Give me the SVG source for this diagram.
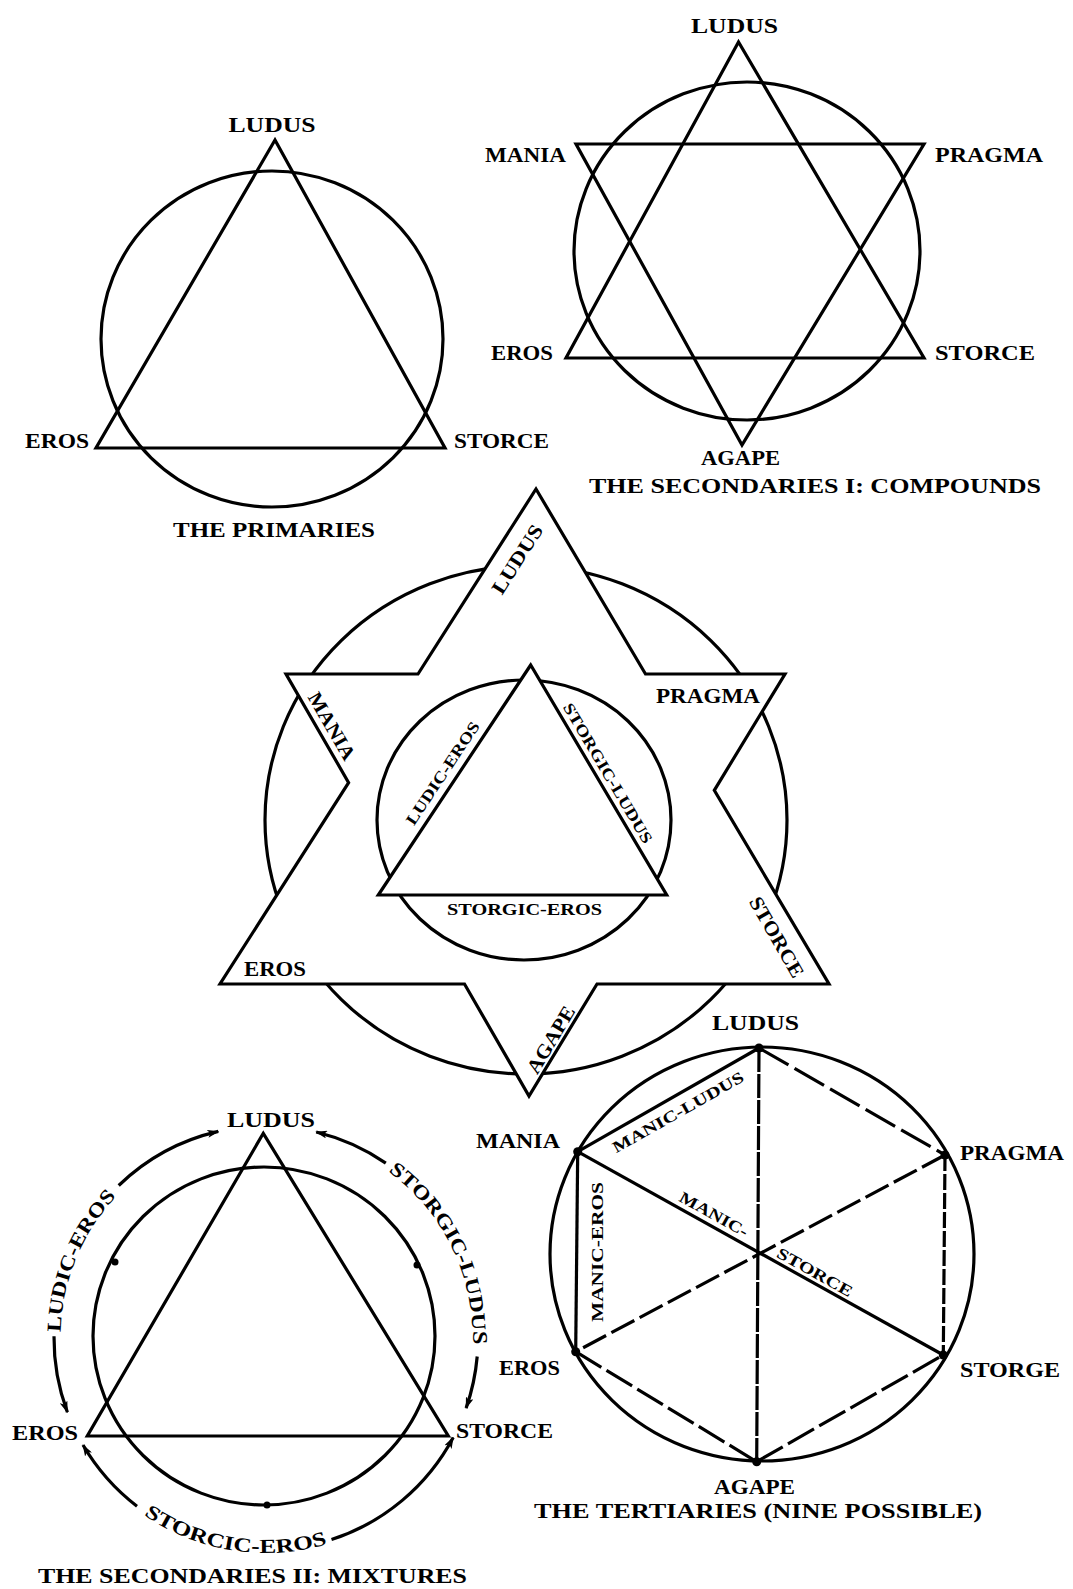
<svg xmlns="http://www.w3.org/2000/svg" width="1073" height="1589" viewBox="0 0 1073 1589">
<style>
.bg{fill:#fff}
.ln{fill:none;stroke:#000;stroke-width:3.2;stroke-linejoin:miter}
.wf{fill:#fff;stroke:#000;stroke-width:3.2;stroke-linejoin:miter}
.t{font-family:"Liberation Serif","Times New Roman",serif;font-weight:bold;font-size:20px;fill:#000}
.s{font-size:16px}
.ttl{font-size:21px}
.c{text-anchor:middle}
.dot{fill:#000}
</style>
<defs>
<marker id="arr" viewBox="0 0 12 8" refX="11" refY="4" markerWidth="12" markerHeight="8" markerUnits="userSpaceOnUse" orient="auto">
<path d="M0,0 L12,4 L0,8 L3,4 z" fill="#000"/>
</marker>
</defs>
<rect class="bg" x="0" y="0" width="1073" height="1589"/>

<!-- THE PRIMARIES -->
<g id="primaries">
<ellipse class="ln" cx="272" cy="339" rx="171" ry="168"/>
<polygon class="ln" points="275,140 96,448 445,448"/>
<text class="t c" x="272" y="132" textLength="87" lengthAdjust="spacingAndGlyphs">LUDUS</text>
<text class="t" x="25" y="448" textLength="64" lengthAdjust="spacingAndGlyphs">EROS</text>
<text class="t" x="454" y="448" textLength="95" lengthAdjust="spacingAndGlyphs">STORCE</text>
<text class="t ttl" x="173" y="537" textLength="202" lengthAdjust="spacingAndGlyphs">THE PRIMARIES</text>
</g>

<!-- THE SECONDARIES I: COMPOUNDS -->
<g id="secondaries-compounds">
<ellipse class="ln" cx="747" cy="251" rx="173" ry="169"/>
<polygon class="ln" points="738.5,42 566,358 924,358"/>
<polygon class="ln" points="576,144 924,144 742,445"/>
<text class="t c" x="734.5" y="33" textLength="87" lengthAdjust="spacingAndGlyphs">LUDUS</text>
<text class="t" x="485" y="162" textLength="81" lengthAdjust="spacingAndGlyphs">MANIA</text>
<text class="t" x="935" y="162" textLength="108" lengthAdjust="spacingAndGlyphs">PRAGMA</text>
<text class="t" x="491" y="360" textLength="62" lengthAdjust="spacingAndGlyphs">EROS</text>
<text class="t" x="935" y="360" textLength="100" lengthAdjust="spacingAndGlyphs">STORCE</text>
<text class="t" x="701" y="465" textLength="79" lengthAdjust="spacingAndGlyphs">AGAPE</text>
<text class="t ttl" x="589" y="493" textLength="452" lengthAdjust="spacingAndGlyphs">THE SECONDARIES I: COMPOUNDS</text>
</g>

<!-- CENTRAL STAR -->
<g id="central-star">
<ellipse class="ln" cx="526" cy="820" rx="261" ry="254"/>
<polygon class="wf" points="536,489 645.5,674 785,674 714.3,790.3 829,984 597,984 529,1096 464.5,984 220,984 348.6,782.6 286,674 418,674"/>
<ellipse class="ln" cx="524" cy="820" rx="147" ry="140"/>
<polygon class="wf" points="530.7,665 378.3,895 666.7,895"/>
<text class="t c" transform="translate(517,559) rotate(-57.5)" dy="0.35em" textLength="78" lengthAdjust="spacingAndGlyphs">LUDUS</text>
<text class="t c" transform="translate(332,726) rotate(60)" dy="0.35em" textLength="75" lengthAdjust="spacingAndGlyphs">MANIA</text>
<text class="t" x="656" y="703" textLength="104" lengthAdjust="spacingAndGlyphs">PRAGMA</text>
<text class="t" x="244" y="976" textLength="62" lengthAdjust="spacingAndGlyphs">EROS</text>
<text class="t c" transform="translate(777,937) rotate(60)" dy="0.35em" textLength="90" lengthAdjust="spacingAndGlyphs">STORCE</text>
<text class="t c" transform="translate(550.5,1039.5) rotate(-59)" dy="0.35em" textLength="75" lengthAdjust="spacingAndGlyphs">AGAPE</text>
<text class="t s c" transform="translate(442.5,773) rotate(-56.5)" dy="0.35em" textLength="120" lengthAdjust="spacingAndGlyphs">LUDIC-EROS</text>
<text class="t s c" transform="translate(608,773) rotate(59.4)" dy="0.35em" textLength="160" lengthAdjust="spacingAndGlyphs">STORGIC-LUDUS</text>
<text class="t s" x="447" y="915" textLength="155" lengthAdjust="spacingAndGlyphs">STORGIC-EROS</text>
</g>

<!-- THE SECONDARIES II: MIXTURES -->
<g id="secondaries-mixtures">
<ellipse class="ln" cx="264" cy="1336" rx="171" ry="169"/>
<polygon class="ln" points="263.3,1133.3 87.3,1436 448.3,1436"/>
<circle class="dot" cx="115" cy="1262" r="3.5"/>
<circle class="dot" cx="417" cy="1265" r="3.5"/>
<circle class="dot" cx="267" cy="1505" r="3.5"/>
<g id="mix-arcs">
<path class="ln" d="M54,1336.2 A212,212 0 0 0 67.4,1412.2" marker-end="url(#arr)"/>
<path class="ln" d="M118.7,1185.5 A212,212 0 0 1 218.3,1131.4" marker-end="url(#arr)"/>
<path class="ln" d="M385.8,1163.1 A212,212 0 0 0 316.2,1132" marker-end="url(#arr)"/>
<path class="ln" d="M477.2,1356.5 A212,212 0 0 1 466.1,1408.1" marker-end="url(#arr)"/>
<path class="ln" d="M137,1506.2 A212,212 0 0 1 83,1445" marker-end="url(#arr)"/>
<path class="ln" d="M331.5,1539.6 A212,212 0 0 0 453.2,1437.5" marker-end="url(#arr)"/>
</g>
<path id="pLE" d="M60.5,1338 A206,206 0 0 1 120.3,1192.3" fill="none"/>
<path id="pSL" d="M387.4,1170.9 A206,206 0 0 1 472.4,1345.2" fill="none"/>
<path id="pSE" d="M139.6,1511.9 A215,215 0 0 0 332.4,1542.5" fill="none"/>
<text class="t"><textPath href="#pLE" startOffset="50%" text-anchor="middle" textLength="150" lengthAdjust="spacingAndGlyphs">LUDIC-EROS</textPath></text>
<text class="t"><textPath href="#pSL" startOffset="50%" text-anchor="middle" textLength="200" lengthAdjust="spacingAndGlyphs">STORGIC-LUDUS</textPath></text>
<text class="t"><textPath href="#pSE" startOffset="50%" text-anchor="middle" textLength="192" lengthAdjust="spacingAndGlyphs">STORCIC-EROS</textPath></text>
<text class="t c" x="271" y="1127" textLength="88" lengthAdjust="spacingAndGlyphs">LUDUS</text>
<text class="t" x="12" y="1440" textLength="66" lengthAdjust="spacingAndGlyphs">EROS</text>
<text class="t" x="456" y="1438" textLength="97" lengthAdjust="spacingAndGlyphs">STORCE</text>
<text class="t ttl" x="38" y="1583" textLength="429" lengthAdjust="spacingAndGlyphs">THE SECONDARIES II: MIXTURES</text>
</g>

<!-- THE TERTIARIES -->
<g id="tertiaries">
<ellipse class="ln" cx="762" cy="1254" rx="212" ry="207"/>
<g id="tert-lines">
<line class="ln" x1="759" y1="1048" x2="756.7" y2="1461.7" stroke-width="2" stroke-dasharray="24 2"/>
<line class="ln" x1="577.7" y1="1151.7" x2="759" y2="1048"/>
<line class="ln" x1="577.7" y1="1151.7" x2="575.7" y2="1351.7" stroke-width="3.6"/>
<line class="ln" x1="577.7" y1="1151.7" x2="943.3" y2="1355" stroke-width="2.6"/>
<line class="ln" x1="759" y1="1048" x2="945" y2="1155" stroke-dasharray="34 7"/>
<line class="ln" x1="945" y1="1155" x2="575.7" y2="1351.7" stroke-width="2.6" stroke-dasharray="26 6"/>
<line class="ln" x1="945" y1="1155" x2="943.3" y2="1355" stroke-width="2.4" stroke-dasharray="16 3"/>
<line class="ln" x1="575.7" y1="1351.7" x2="756.7" y2="1461.7" stroke-dasharray="30 6"/>
<line class="ln" x1="756.7" y1="1461.7" x2="943.3" y2="1355" stroke-dasharray="30 6"/>
</g>
<circle class="dot" cx="759" cy="1048" r="4.5"/>
<circle class="dot" cx="577.7" cy="1151.7" r="4.5"/>
<circle class="dot" cx="945" cy="1155" r="4.5"/>
<circle class="dot" cx="575.7" cy="1351.7" r="4.5"/>
<circle class="dot" cx="943.3" cy="1355" r="4.5"/>
<circle class="dot" cx="756.7" cy="1461.7" r="4.5"/>
<text class="t c" x="755.5" y="1030" textLength="87" lengthAdjust="spacingAndGlyphs">LUDUS</text>
<text class="t" x="476" y="1148" textLength="84" lengthAdjust="spacingAndGlyphs">MANIA</text>
<text class="t" x="960" y="1160" textLength="104" lengthAdjust="spacingAndGlyphs">PRAGMA</text>
<text class="t" x="499" y="1375" textLength="61" lengthAdjust="spacingAndGlyphs">EROS</text>
<text class="t" x="960" y="1377" textLength="100" lengthAdjust="spacingAndGlyphs">STORGE</text>
<text class="t" x="714" y="1494" textLength="81" lengthAdjust="spacingAndGlyphs">AGAPE</text>
<text class="t s c" transform="translate(678,1112) rotate(-29.5)" dy="0.35em" textLength="148" lengthAdjust="spacingAndGlyphs">MANIC-LUDUS</text>
<text class="t s c" transform="translate(597.5,1252) rotate(-90)" dy="0.35em" textLength="140" lengthAdjust="spacingAndGlyphs">MANIC-EROS</text>
<text class="t s c" transform="translate(714,1214) rotate(29.1)" dy="0.35em" textLength="76" lengthAdjust="spacingAndGlyphs">MANIC-</text>
<text class="t s c" transform="translate(815,1272) rotate(29.1)" dy="0.35em" textLength="84" lengthAdjust="spacingAndGlyphs">STORCE</text>
<text class="t ttl" x="534" y="1518" textLength="448" lengthAdjust="spacingAndGlyphs">THE TERTIARIES (NINE POSSIBLE)</text>
</g>
</svg>
